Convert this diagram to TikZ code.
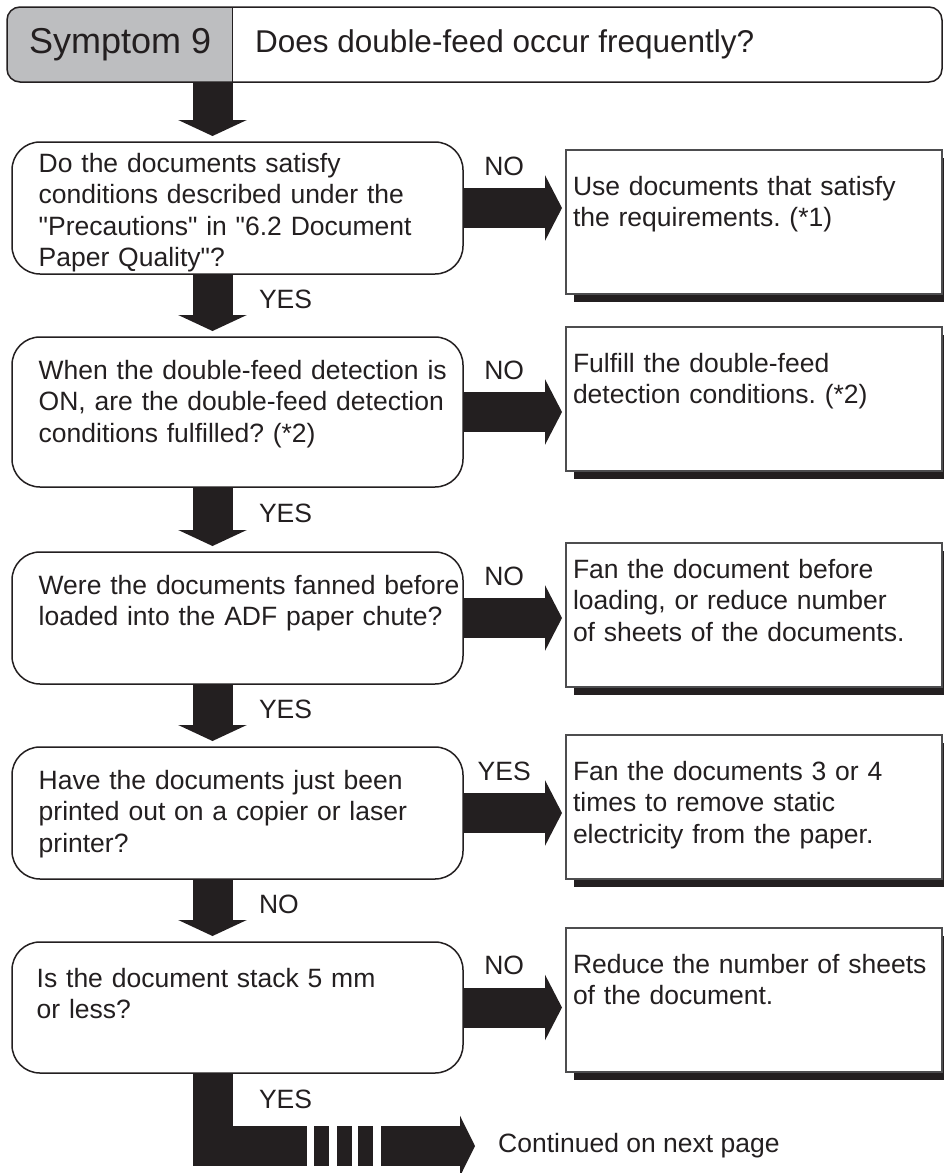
\documentclass[tikz,border=0pt]{standalone}
\usepackage{fontspec}
\setmainfont{Liberation Sans}
\usepackage{tikz}
\usetikzlibrary{positioning,arrows.meta,shadows}
\definecolor{inkdark}{HTML}{231F20}
\definecolor{taggray}{HTML}{BDBEC0}
\definecolor{edgegray}{HTML}{4D4D4F}
\tikzset{
  fat/.style={-{Triangle[width=68pt,length=16pt]}, line width=40pt, draw=inkdark, shorten >=6pt},
  hfat/.style={fat, -{Triangle[width=65pt,length=17pt]}, shorten >=4pt}
}
\frenchspacing

\begin{document}
\begin{tikzpicture}[
  x=1pt, y=1pt,
  font=\fontsize{26.5}{31.5}\selectfont,
  text=inkdark,
  hdr/.style={draw=inkdark, line width=1.5pt, rounded corners=13pt, minimum width=935pt, minimum height=75pt, inner sep=0pt, outer sep=0pt},
  ask/.style={draw=inkdark, line width=1.5pt, fill=white, rounded corners=28pt, minimum width=451pt, inner sep=0pt, outer sep=0pt},
  asktext/.style={text width=425pt, align=left, inner sep=0pt, anchor=base west},
  answer/.style={draw=edgegray, line width=1.2pt, fill=white, drop shadow={shadow xshift=8pt, shadow yshift=-8pt, fill=inkdark, opacity=1}, text width=362pt, inner xsep=7pt, inner ysep=0pt, text height=45pt, text depth=99pt, align=left, anchor=north west, outer sep=0pt},
  lbl/.style={inner sep=0pt, anchor=base, yshift=33pt},
  vlbl/.style={inner sep=0pt, anchor=base west, xshift=26.5pt}
]
\useasboundingbox (0,0) rectangle (944,-1173);

% header
\begin{scope}
  \clip[rounded corners=13pt] (7,-7) rectangle (942,-82);
  \fill[taggray] (7,-7) rectangle (232,-82);
\end{scope}
\node[hdr] (hdr) at (474.5,-44.5) {};
\coordinate (tagedge) at (232,0);
\draw[inkdark, line width=1pt] (hdr.north -| tagedge) -- (hdr.south -| tagedge);
\node[anchor=base west, inner sep=0pt, font=\fontsize{36}{40}\selectfont] (sym) at (29,-53) {Symptom 9};
\node[anchor=base west, inner sep=0pt, font=\fontsize{31.5}{36}\selectfont] (ques) at (255,-52) {Does double-feed occur frequently?};

\coordinate (spine) at (212.5,0);

% questions
\node[ask, minimum height=132pt, anchor=north west] (q1) at (12,-142) {};
\node[ask, minimum height=150pt, below=63pt of q1] (q2) {};
\node[ask, minimum height=132pt, below=65pt of q2] (q3) {};
\node[ask, minimum height=132pt, below=63pt of q3] (q4) {};
\node[ask, minimum height=131pt, below=63pt of q4] (q5) {};

\node[asktext] (q1t) at ([shift={(26.5,-30)}]q1.north west) {Do the documents satisfy\\conditions described under the\\\textquotedbl Precautions\textquotedbl{} in \textquotedbl 6.2 Document\\Paper Quality\textquotedbl ?};
\node[asktext] (q2t) at ([shift={(26.5,-42)}]q2.north west) {When the double-feed detection is\\ON, are the double-feed detection\\conditions fulfilled? (*2)};
\node[asktext] (q3t) at ([shift={(26.5,-42)}]q3.north west) {Were the documents fanned before\\loaded into the ADF paper chute?};
\node[asktext] (q4t) at ([shift={(26.5,-42)}]q4.north west) {Have the documents just been\\printed out on a copier or laser\\printer?};
\node[asktext] (q5t) at ([shift={(24.5,-45)}]q5.north west) {Is the document stack 5 mm\\or less?};

% answers
\node[answer] (a1) at (566,-150) {Use documents that satisfy\\the requirements. (*1)};
\node[answer] (a2) at (566,-327) {Fulfill the double-feed\\detection conditions. (*2)};
\node[answer, text height=35pt, text depth=109pt] (a3) at (566,-543) {Fan the document before\\loading, or reduce number\\of sheets of the documents.};
\node[answer] (a4) at (566,-735) {Fan the documents 3 or 4\\times to remove static\\electricity from the paper.};
\node[answer] (a5) at (566,-928) {Reduce the number of sheets\\of the document.};

\node[anchor=west, inner sep=0pt] (cont) at (498,-1146) {Continued on next page};

% down arrows
\draw[fat] (hdr.south -| spine) -- (q1.north -| spine);
\draw[fat] (q1.south -| spine) -- node[vlbl, pos=0.54] {YES} (q2.north -| spine);
\draw[fat] (q2.south -| spine) -- node[vlbl, pos=0.54] {YES} (q3.north -| spine);
\draw[fat] (q3.south -| spine) -- node[vlbl, pos=0.54] {YES} (q4.north -| spine);
\draw[fat] (q4.south -| spine) -- node[vlbl, pos=0.54] {NO} (q5.north -| spine);

% side arrows
\draw[hfat] (q1.east) -- node[lbl, pos=0.4] {NO} (q1.east -| a1.west);
\draw[hfat] (q2.east) -- node[lbl, pos=0.4] {NO} (q2.east -| a2.west);
\draw[hfat] (q3.east) -- node[lbl, pos=0.4] {NO} (q3.east -| a3.west);
\draw[hfat] (q4.east) -- node[lbl, pos=0.4] {YES} (q4.east -| a4.west);
\draw[hfat] (q5.east) -- node[lbl, pos=0.4] {NO} (q5.east -| a5.west);

% continued
\coordinate (brk) at ([xshift=-117pt]cont.west);
\draw[fat, -, shorten >=0pt, dash pattern=on 167.5pt off 7pt on 15pt off 8pt on 15pt off 6pt on 15pt off 8pt] (q5.south -| spine) |- node[vlbl, pos=0.24] {YES} (brk);
\draw[fat, -{Triangle[width=60pt,length=15pt]}, shorten >=23pt] (brk) -- (cont.west);
\end{tikzpicture}
\end{document}
